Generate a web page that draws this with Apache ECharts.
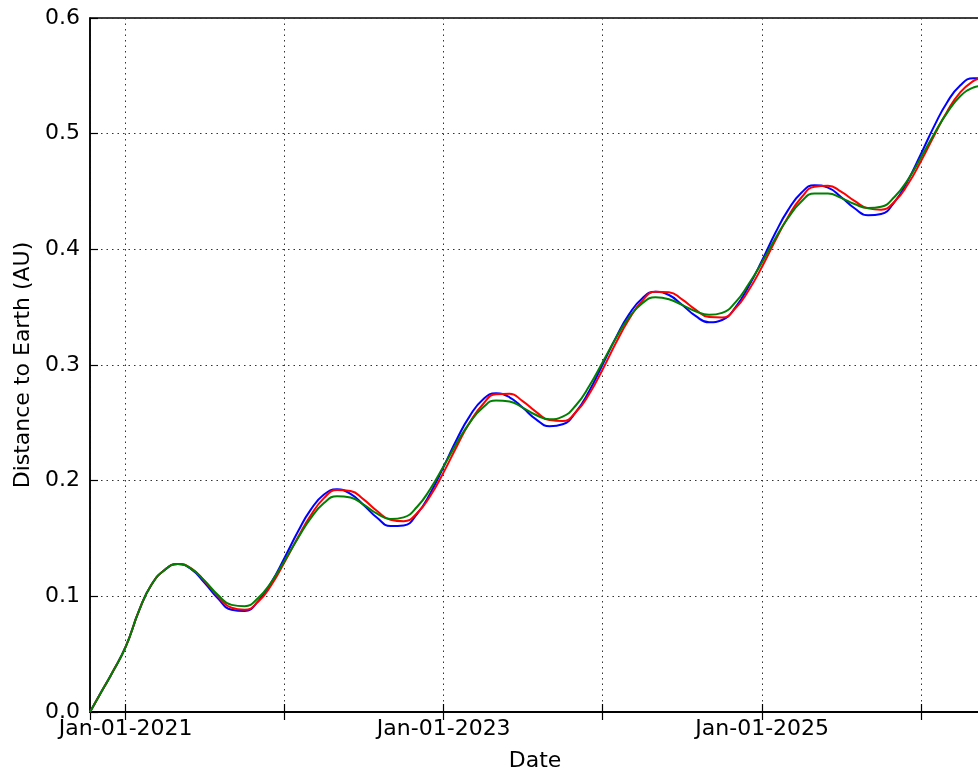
<!DOCTYPE html>
<html>
<head>
<meta charset="utf-8">
<script src="https://cdn.jsdelivr.net/npm/echarts@6/dist/echarts.min.js"></script>
<style>
  html, body { margin: 0; padding: 0; background: #fff; }
  #chart { width: 978px; height: 771px; }
</style>
</head>
<body>
<div id="chart"></div>
<script>
// month starts (first/last point are the ends of the date range)
var dates = [
  "2020-10-11", "2020-11-01", "2020-12-01",
  "2021-01-01", "2021-02-01", "2021-03-01", "2021-04-01", "2021-05-01", "2021-06-01",
  "2021-07-01", "2021-08-01", "2021-09-01", "2021-10-01", "2021-11-01", "2021-12-01",
  "2022-01-01", "2022-02-01", "2022-03-01", "2022-04-01", "2022-05-01", "2022-06-01",
  "2022-07-01", "2022-08-01", "2022-09-01", "2022-10-01", "2022-11-01", "2022-12-01",
  "2023-01-01", "2023-02-01", "2023-03-01", "2023-04-01", "2023-05-01", "2023-06-01",
  "2023-07-01", "2023-08-01", "2023-09-01", "2023-10-01", "2023-11-01", "2023-12-01",
  "2024-01-01", "2024-02-01", "2024-03-01", "2024-04-01", "2024-05-01", "2024-06-01",
  "2024-07-01", "2024-08-01", "2024-09-01", "2024-10-01", "2024-11-01", "2024-12-01",
  "2025-01-01", "2025-02-01", "2025-03-01", "2025-04-01", "2025-05-01", "2025-06-01",
  "2025-07-01", "2025-08-01", "2025-09-01", "2025-10-01", "2025-11-01", "2025-12-01",
  "2026-01-01", "2026-02-01", "2026-03-01", "2026-04-01", "2026-05-01", "2026-05-16"
];

var blueValues = [
  0, 0.014, 0.034,
  0.0565, 0.088, 0.110, 0.123, 0.128, 0.1232, 0.1117, 0.098, 0.0884, 0.0873, 0.0958, 0.1119,
  0.1336, 0.1564, 0.1745, 0.188, 0.1925, 0.1885, 0.179, 0.1679, 0.1608, 0.1613, 0.1714, 0.189,
  0.2123, 0.2365, 0.2554, 0.2702, 0.2755, 0.2721, 0.2632, 0.253, 0.2471, 0.2488, 0.2597, 0.2776,
  0.3006, 0.3243, 0.3436, 0.3578, 0.3634, 0.3605, 0.3521, 0.3424, 0.3369, 0.3389, 0.35, 0.3681,
  0.3906, 0.4147, 0.4337, 0.4489, 0.4554, 0.4533, 0.4453, 0.4355, 0.4294, 0.4305, 0.4411, 0.4592,
  0.4829, 0.5074, 0.5268, 0.5419, 0.5479, 0.5478
];

var redValues = [
  0, 0.014, 0.034,
  0.0565, 0.088, 0.110, 0.123, 0.128, 0.124, 0.1132, 0.0998, 0.0901, 0.0884, 0.0953, 0.1096,
  0.1298, 0.1515, 0.1696, 0.1849, 0.1919, 0.191, 0.1838, 0.1738, 0.1662, 0.1649, 0.172, 0.1868,
  0.2074, 0.2304, 0.2498, 0.2661, 0.2748, 0.2751, 0.2688, 0.2595, 0.2524, 0.2516, 0.2596, 0.275,
  0.2964, 0.3196, 0.3394, 0.3556, 0.3634, 0.363, 0.3567, 0.3479, 0.3415, 0.3411, 0.3492, 0.3646,
  0.3852, 0.4082, 0.4278, 0.4448, 0.4541, 0.455, 0.4499, 0.4419, 0.4354, 0.4343, 0.4414, 0.456,
  0.4765, 0.4993, 0.5188, 0.5359, 0.5456, 0.5475
];

var greenValues = [
  0, 0.014, 0.034,
  0.0565, 0.088, 0.110, 0.123, 0.128, 0.1237, 0.1134, 0.1011, 0.0926, 0.0915, 0.0986, 0.1122,
  0.131, 0.1507, 0.1672, 0.1806, 0.1866, 0.1854, 0.1793, 0.1715, 0.1668, 0.1683, 0.1774, 0.1928,
  0.2127, 0.2333, 0.2498, 0.2632, 0.2694, 0.2684, 0.2632, 0.2568, 0.2531, 0.2553, 0.2654, 0.2818,
  0.3026, 0.3238, 0.341, 0.3535, 0.3585, 0.3568, 0.352, 0.3465, 0.3434, 0.3451, 0.3544, 0.37,
  0.3891, 0.41, 0.4269, 0.4413, 0.4483, 0.4483, 0.4445, 0.4392, 0.4358, 0.4369, 0.4454, 0.46,
  0.4798, 0.5006, 0.5178, 0.5325, 0.5399, 0.541
];

var yTicks = [0, 0.1, 0.2, 0.3, 0.4, 0.5, 0.6];
var xMin = "2020-10-11";
var xMax = "2026-05-16";

function pairs(vals) {
  return dates.map(function (d, i) { return [d, vals[i]]; });
}

var font = "DejaVu Sans";
var DAY = 24 * 3600 * 1000;

var myChart = echarts.init(document.getElementById("chart"));

var option = {
  backgroundColor: "#fff",
  animation: false,
  grid: {
    left: 90,
    top: 18,
    right: -2,
    bottom: 59,
    outerBoundsMode: "none",
    containLabel: false,
    show: true,
    borderColor: "#000",
    borderWidth: 1.5,
  },
  xAxis: [
    {
      type: "time",
      min: xMin,
      max: xMax,
      minInterval: 365 * DAY,
      maxInterval: 366 * DAY,
      name: "Date",
      nameLocation: "middle",
      nameGap: 38,
      nameTextStyle: { fontFamily: font, fontSize: 22, color: "#000" },
      axisLine: { show: true, onZero: false, lineStyle: { color: "#000", width: 1.5 } },
      axisTick: { show: true, inside: true, length: 8, lineStyle: { color: "#000", width: 1.2 } },
      axisLabel: {
        fontFamily: font,
        fontSize: 22,
        color: "#000",
        margin: 6,
        hideOverlap: false,
        formatter: function (val) {
          var d = new Date(val);
          if (d.getMonth() === 0 && d.getDate() === 1 && d.getFullYear() % 2 === 1) {
            return "Jan-01-" + d.getFullYear();
          }
          return "";
        },
      },
      splitLine: {
        show: true,
        lineStyle: { color: "#333", type: [1.5, 4], width: 1 },
      },
    },
    {
      type: "time",
      position: "top",
      min: xMin,
      max: xMax,
      minInterval: 365 * DAY,
      maxInterval: 366 * DAY,
      axisLine: { show: true, lineStyle: { color: "#000", width: 1.5 } },
      axisTick: { show: true, inside: true, length: 8, lineStyle: { color: "#000", width: 1.2 } },
      axisLabel: { show: false },
      splitLine: { show: false },
    },
  ],
  yAxis: {
    type: "value",
    min: 0,
    max: 0.6,
    interval: 0.1,
    name: "Distance to Earth (AU)",
    nameLocation: "middle",
    nameGap: 54,
    nameTextStyle: { fontFamily: font, fontSize: 22, color: "#000" },
    axisLine: { show: true, lineStyle: { color: "#000", width: 1.5 } },
    axisTick: { show: true, inside: true, length: 8, lineStyle: { color: "#000", width: 1.2 } },
    axisLabel: {
      fontFamily: font,
      fontSize: 22,
      color: "#000",
      margin: 10,
      formatter: function (v) {
        return yTicks.indexOf(Math.round(v * 10) / 10) >= 0 ? v.toFixed(1) : "";
      },
    },
    splitLine: {
      show: true,
      lineStyle: { color: "#333", type: [1.5, 4], width: 1 },
    },
  },
  series: [
    {
      name: "blue",
      type: "line",
      data: pairs(blueValues),
      smooth: 0.5,
      showSymbol: false,
      lineStyle: { color: "#0000ff", width: 2 },
      z: 2,
    },
    {
      name: "red",
      type: "line",
      data: pairs(redValues),
      smooth: 0.5,
      showSymbol: false,
      lineStyle: { color: "#ff0000", width: 2 },
      z: 3,
    },
    {
      name: "green",
      type: "line",
      data: pairs(greenValues),
      smooth: 0.5,
      showSymbol: false,
      lineStyle: { color: "#008000", width: 2 },
      z: 4,
    },
  ],
};

myChart.setOption(option);
window.onresize = function () {
  myChart.resize();
};
</script>
</body>
</html>
